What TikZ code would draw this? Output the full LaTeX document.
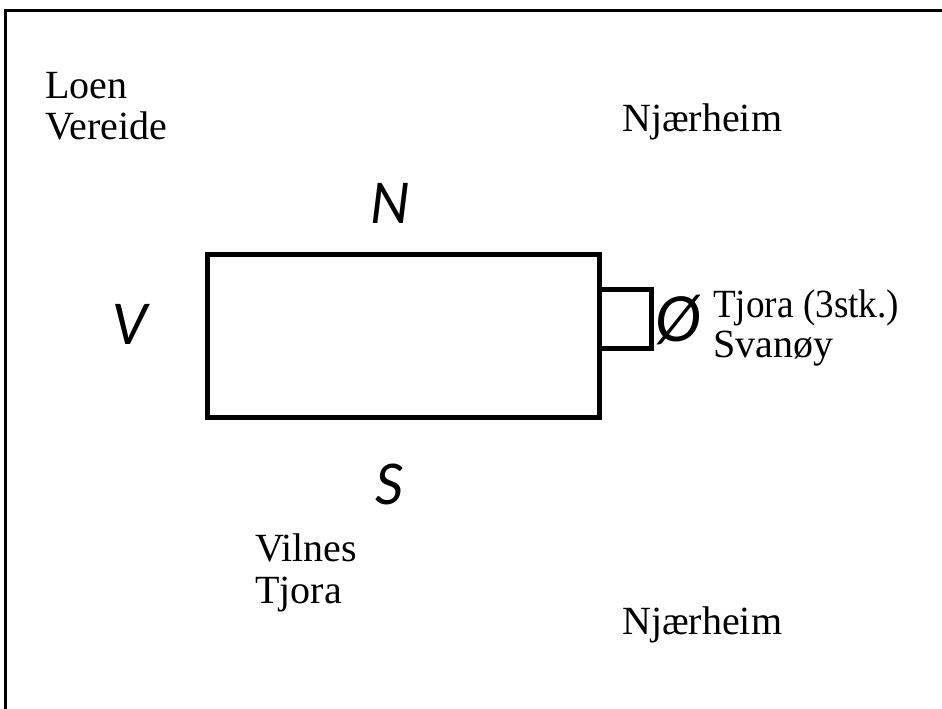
\documentclass[tikz,border=0pt]{standalone}
\usepackage{fontspec}
\setmainfont{Liberation Serif}
\newfontfamily\dirfont{Lato Italic}
\begin{document}
\begin{tikzpicture}[x=1pt,y=-1pt,
  lbl/.style={font=\fontsize{40}{40}\selectfont, inner sep=0pt, anchor=base west},
  dir/.style={font=\dirfont\fontsize{56}{56}\selectfont, inner sep=0pt},
  box/.style={draw=black, line width=5pt}]
\useasboundingbox (0,0) rectangle (942,709);
\fill[white] (0,0) rectangle (942,709);
% frame
\coordinate (fb) at (5.5,709);
\coordinate (fc) at (5.5,10.5);
\coordinate (fr) at (942,10.5);
\draw[line width=3pt] (fb) -- (fc) -- (fr);
% boxes
\node[box, minimum width=392pt, minimum height=163.5pt, inner sep=0pt, anchor=north west] (house) at (204.5,251.5) {};
\node[box, minimum width=52.6pt, minimum height=59pt, inner sep=0pt, anchor=north west] (annex) at (596.7,287) {};
% compass letters
\node[dir] (N) at (390,203) {N};
\node[dir] (V) at (130,324) {V};
\node[dir] (S) at (390,484) {S};
\node[dir, font=\dirfont\fontsize{62}{62}\selectfont] (O) at (679,320) {Ø};
% labels
\node[lbl] (loen) at (45,98) {Loen};
\node[lbl] (vereide) at (45,139) {Vereide};
\node[lbl] (njtop) at (622,131) {Njærheim};
\node[lbl, xscale=0.93] (tjoraE) at (713,317) {Tjora (3stk.)};
\node[lbl] (svanoy) at (713,357) {Svanøy};
\node[lbl] (vilnes) at (255,561) {Vilnes};
\node[lbl] (tjoraS) at (255,603) {Tjora};
\node[lbl] (njbot) at (622,634) {Njærheim};
\end{tikzpicture}
\end{document}
